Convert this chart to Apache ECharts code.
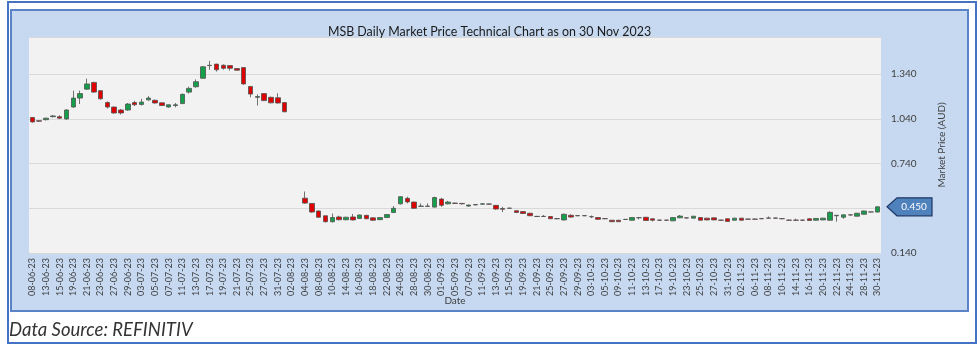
<!DOCTYPE html>
<html>
<head>
<meta charset="utf-8">
<script src="https://cdn.jsdelivr.net/npm/echarts@6/dist/echarts.min.js"></script>
<style>
html,body{margin:0;padding:0;background:#ffffff;}
#outer{position:absolute;left:7px;top:1px;width:966px;height:339px;border:2px solid #4472C4;}
#panel{position:absolute;left:10px;top:9px;width:955px;height:299px;background:#C6D9F1;border:2px solid #5B83C7;}
#chart{position:absolute;left:0;top:0;width:979px;height:345px;}
</style>
</head>
<body>
<div id="outer"></div>
<div id="panel"></div>
<div id="chart"></div>
<script>
const dates = [
'08-06-23','09-06-23','13-06-23','14-06-23','15-06-23','16-06-23','19-06-23','20-06-23','21-06-23','22-06-23',
'23-06-23','26-06-23','27-06-23','28-06-23','29-06-23','30-06-23','03-07-23','04-07-23','05-07-23','06-07-23',
'07-07-23','10-07-23','11-07-23','12-07-23','13-07-23','14-07-23','17-07-23','18-07-23','19-07-23','20-07-23',
'21-07-23','24-07-23','25-07-23','26-07-23','27-07-23','28-07-23','31-07-23','01-08-23','02-08-23','03-08-23',
'04-08-23','07-08-23','08-08-23','09-08-23','10-08-23','11-08-23','14-08-23','15-08-23','16-08-23','17-08-23',
'18-08-23','21-08-23','22-08-23','23-08-23','24-08-23','25-08-23','28-08-23','29-08-23','30-08-23','31-08-23',
'01-09-23','04-09-23','05-09-23','06-09-23','07-09-23','08-09-23','11-09-23','12-09-23','13-09-23','14-09-23',
'15-09-23','18-09-23','19-09-23','20-09-23','21-09-23','22-09-23','25-09-23','26-09-23','27-09-23','28-09-23',
'29-09-23','02-10-23','03-10-23','04-10-23','05-10-23','06-10-23','09-10-23','10-10-23','11-10-23','12-10-23',
'13-10-23','16-10-23','17-10-23','18-10-23','19-10-23','20-10-23','23-10-23','24-10-23','25-10-23','26-10-23',
'27-10-23','30-10-23','31-10-23','01-11-23','02-11-23','03-11-23','06-11-23','07-11-23','08-11-23','09-11-23',
'10-11-23','13-11-23','14-11-23','15-11-23','16-11-23','17-11-23','20-11-23','21-11-23','22-11-23','23-11-23',
'24-11-23','27-11-23','28-11-23','29-11-23','30-11-23'
];
const openPrices = [
1.050,1.028,1.035,1.055,1.055,1.040,1.120,1.180,1.240,1.285,
1.230,1.150,1.120,1.100,1.100,1.150,1.137,1.168,1.165,1.148,
1.120,1.130,1.143,1.220,1.256,1.313,1.398,1.408,1.400,1.398,
1.378,1.385,1.258,1.185,1.210,1.185,1.182,1.150,null,null,
0.508,0.473,0.422,0.390,0.350,0.382,0.363,0.382,0.372,0.393,
0.376,0.364,0.378,0.412,0.470,0.507,0.482,0.453,0.455,0.448,
0.502,0.470,0.475,0.473,0.455,0.463,0.468,0.469,0.460,0.438,
0.440,0.424,0.418,0.407,0.386,0.386,0.385,0.371,0.362,0.393,
0.391,0.391,0.384,0.378,0.371,0.360,0.360,0.366,0.360,0.377,
0.380,0.370,0.361,0.361,0.356,0.376,0.376,0.374,0.378,0.374,
0.376,0.361,0.370,0.360,0.374,0.368,0.368,0.371,0.375,0.375,
0.371,0.361,0.361,0.361,0.370,0.360,0.362,0.360,0.390,0.380,
0.396,0.387,0.400,0.416,0.415
];
const closePrices = [
1.020,1.025,1.045,1.060,1.045,1.100,1.180,1.210,1.275,1.220,
1.175,1.120,1.080,1.080,1.140,1.135,1.153,1.180,1.147,1.130,
1.135,1.135,1.205,1.245,1.290,1.390,1.400,1.370,1.380,1.380,
1.367,1.275,1.207,1.190,1.163,1.148,1.147,1.088,null,null,
0.475,0.415,0.380,0.350,0.378,0.363,0.380,0.362,0.395,0.370,
0.360,0.378,0.398,0.440,0.518,0.483,0.440,0.455,0.453,0.512,
0.460,0.482,0.473,0.470,0.462,0.465,0.470,0.468,0.435,0.434,
0.441,0.412,0.405,0.390,0.385,0.385,0.370,0.370,0.400,0.381,
0.390,0.390,0.383,0.366,0.370,0.350,0.350,0.365,0.378,0.377,
0.358,0.360,0.360,0.360,0.378,0.388,0.375,0.387,0.360,0.362,
0.362,0.360,0.352,0.374,0.360,0.367,0.367,0.370,0.374,0.374,
0.370,0.360,0.360,0.360,0.358,0.372,0.374,0.413,0.393,0.396,
0.395,0.407,0.422,0.415,0.450
];
const lowPrices = [
1.015,1.020,1.030,1.050,1.040,1.035,1.115,1.140,1.235,1.215,
1.170,1.110,1.075,1.070,1.095,1.127,1.130,1.162,1.143,1.127,
1.116,1.118,1.140,1.210,1.250,1.310,1.370,1.358,1.370,1.364,
1.365,1.270,1.185,1.130,1.160,1.145,1.143,1.085,null,null,
0.470,0.410,0.375,0.345,0.345,0.360,0.360,0.358,0.368,0.367,
0.355,0.360,0.375,0.408,0.465,0.473,0.435,0.450,0.450,0.445,
0.450,0.466,0.470,0.466,0.450,0.460,0.465,0.465,0.430,0.415,
0.436,0.410,0.402,0.388,0.382,0.382,0.368,0.366,0.358,0.378,
0.387,0.387,0.375,0.364,0.367,0.348,0.348,0.362,0.358,0.365,
0.356,0.352,0.357,0.357,0.354,0.374,0.372,0.372,0.358,0.360,
0.360,0.357,0.350,0.358,0.358,0.364,0.364,0.367,0.371,0.371,
0.367,0.357,0.357,0.357,0.356,0.358,0.360,0.358,0.350,0.370,
0.392,0.385,0.398,0.412,0.412
];
const highPrices = [
1.052,1.030,1.048,1.067,1.065,1.105,1.230,1.230,1.310,1.290,
1.232,1.158,1.122,1.107,1.147,1.162,1.175,1.193,1.170,1.150,
1.137,1.147,1.210,1.256,1.305,1.395,1.430,1.410,1.407,1.400,
1.380,1.385,1.260,1.205,1.212,1.190,1.212,1.152,null,null,
0.553,0.475,0.425,0.390,0.405,0.390,0.383,0.402,0.398,0.395,
0.378,0.380,0.400,0.455,0.520,0.518,0.485,0.473,0.473,0.518,
0.510,0.490,0.478,0.476,0.465,0.468,0.474,0.472,0.462,0.450,
0.444,0.426,0.420,0.409,0.389,0.395,0.387,0.373,0.405,0.400,
0.393,0.393,0.392,0.380,0.373,0.362,0.362,0.368,0.380,0.380,
0.382,0.372,0.363,0.363,0.380,0.395,0.378,0.389,0.380,0.376,
0.378,0.363,0.372,0.376,0.376,0.370,0.370,0.373,0.385,0.377,
0.373,0.363,0.370,0.363,0.372,0.374,0.376,0.420,0.395,0.398,
0.398,0.409,0.424,0.418,0.452
];
const yTicks = { min: 0.14, max: 1.59, step: 0.3 };
const lastPriceLabel = '0.450';
const lastPrice = 0.45;

const candleData = dates.map((d, i) => openPrices[i] === null ? ['-','-','-','-'] :
  [openPrices[i], closePrices[i], lowPrices[i], highPrices[i]]);

const GRID = { left: 29, right: 98, top: 37, bottom: 92 };
const FONT = 'Lato, "Open Sans", sans-serif';
const chart = echarts.init(document.getElementById('chart'), null, { renderer: 'canvas' });
chart.setOption({
  backgroundColor: 'transparent',
  animation: false,
  title: [
    { text: 'MSB Daily Market Price Technical Chart as on 30 Nov 2023', left: 'center', top: 21,
      textStyle: { fontFamily: FONT, fontSize: 12.4, fontWeight: 'normal', color: '#1a1a1a' } },
    { text: 'Data Source: REFINITIV', left: 4, top: 316,
      textStyle: { fontFamily: FONT, fontSize: 18.5, fontStyle: 'italic', fontWeight: 'normal', color: '#333333' } }
  ],
  grid: { left: GRID.left, right: GRID.right, top: GRID.top, bottom: GRID.bottom, show: true,
          backgroundColor: '#F2F2F2', borderWidth: 0 },
  xAxis: {
    type: 'category', data: dates, boundaryGap: true,
    name: 'Date', nameLocation: 'middle', nameGap: 43, nameMoveOverlap: false,
    nameTextStyle: { fontFamily: FONT, fontSize: 10, color: '#404040', verticalAlign: 'top' },
    axisLine: { show: false },
    axisTick: { show: false },
    axisLabel: { interval: 1, rotate: 90, fontFamily: FONT, fontSize: 9, color: '#404040', margin: 5 },
    splitLine: { show: false }
  },
  yAxis: {
    type: 'value', position: 'right', min: yTicks.min, max: yTicks.max, interval: yTicks.step,
    name: 'Market Price (AUD)', nameLocation: 'middle', nameRotate: 90, nameGap: 56, nameMoveOverlap: false,
    nameTextStyle: { fontFamily: FONT, fontSize: 10, color: '#404040' },
    axisLine: { show: false }, axisTick: { show: false },
    axisLabel: { showMaxLabel: false, margin: 10, fontFamily: FONT, fontSize: 10, color: '#404040',
      formatter: v => (Math.abs(v - lastPrice) < 0.02 ? '' : v.toFixed(3)) },
    splitLine: { lineStyle: { color: '#D9D9D9', width: 1 } }
  },
  series: [{
    type: 'candlestick', data: candleData, barWidth: 5,
    itemStyle: { color: '#14A04A', color0: '#E00000', borderColor: '#505050', borderColor0: '#505050', borderWidth: 0.8 }
  }]
});

const py = chart.convertToPixel({ yAxisIndex: 0 }, lastPrice);
const gx = 979 - GRID.right + 6;
chart.setOption({
  graphic: [{
    type: 'group', z: 100,
    children: [
      { type: 'polygon', shape: { points: [[gx, py], [gx + 10, py - 9], [gx + 45, py - 9], [gx + 45, py + 9], [gx + 10, py + 9]] },
        style: { fill: '#4F81BD', stroke: '#1F3864', lineWidth: 1.2 } },
      { type: 'text', x: gx + 27, y: py, style: { text: lastPriceLabel, fill: '#ffffff', font: '10px ' + FONT, align: 'center', verticalAlign: 'middle' } }
    ]
  }]
});
</script>
</body>
</html>
